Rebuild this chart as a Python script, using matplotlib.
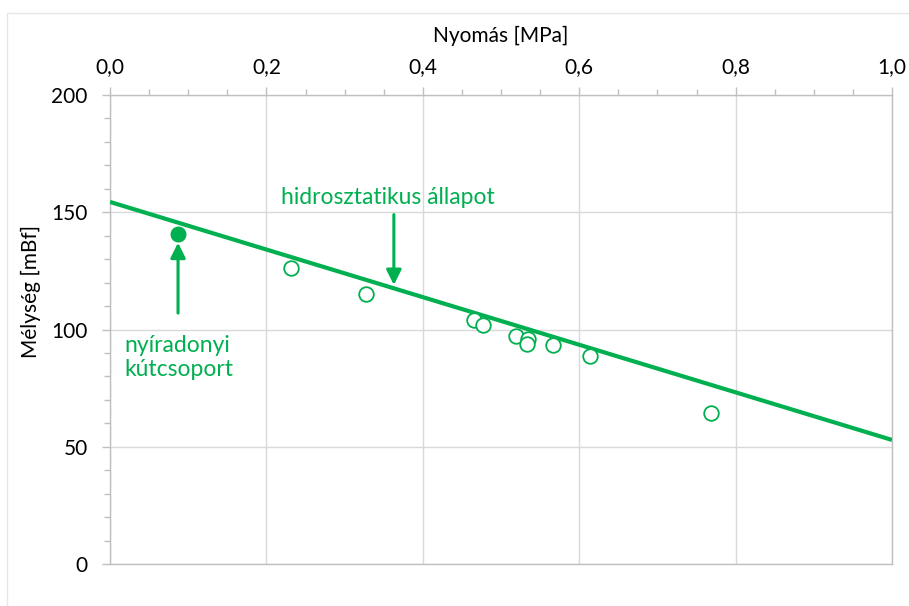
import matplotlib
matplotlib.use("Agg")
import matplotlib.pyplot as plt
from matplotlib.patches import Rectangle
from matplotlib.ticker import MultipleLocator, FuncFormatter

# measured wells: pressure [MPa] and depth [mBf]
pressure = [0.2315, 0.328, 0.4655, 0.477, 0.519, 0.5345, 0.533, 0.5665, 0.614, 0.7685]
depth = [126.3, 115.0, 104.1, 101.9, 97.2, 95.9, 93.8, 93.4, 88.7, 64.3]

# nyíradonyi well group
nyir_pressure = [0.087]
nyir_depth = [140.7]

# hydrostatic line end points
hydro_p = [0.0, 1.0]
hydro_d = [154.4, 52.9]

green = "#00B050"
grid_c = "#d9d9d9"
font = "Lato"

plt.rcParams['font.family'] = [font, 'DejaVu Sans']

W, H = 909, 606
fig = plt.figure(figsize=(W / 100, H / 100), dpi=100)
fig.patches.append(Rectangle((7 / W, -0.01), 1.0, 1 - 13 / H + 0.01,
                             transform=fig.transFigure, fill=False,
                             edgecolor="#e6e6e6", lw=1.0))

ax = fig.add_axes([110 / W, 1 - 564 / H, (892 - 110) / W, (564 - 95) / H])

ax.plot(hydro_p, hydro_d, color=green, lw=3.0, zorder=3, solid_capstyle="butt")
ax.plot(pressure, depth, ls="none", marker="o", ms=10.5, mfc="white",
        mec=green, mew=1.3, zorder=4)
ax.plot(nyir_pressure, nyir_depth, ls="none", marker="o", ms=10.5,
        mfc=green, mec=green, zorder=4)

ax.set_xlim(0, 1)
ax.set_ylim(0, 200)

ax.xaxis.tick_top()
ax.xaxis.set_label_position("top")
ax.xaxis.set_major_locator(MultipleLocator(0.2))
ax.xaxis.set_minor_locator(MultipleLocator(0.05))
ax.yaxis.set_major_locator(MultipleLocator(50))
ax.yaxis.set_minor_locator(MultipleLocator(10))
ax.xaxis.set_major_formatter(FuncFormatter(lambda v, p: f"{v:.1f}".replace(".", ",")))

ax.tick_params(which="major", length=6, width=1, color="#bfbfbf",
               labelsize=15, pad=10)
ax.tick_params(which="minor", length=4, width=1, color="#bfbfbf")
ax.tick_params(axis="x", which="major", pad=7)

ax.grid(True, which="major", color=grid_c, lw=1)
for s in ax.spines.values():
    s.set_color("#bfbfbf")
    s.set_linewidth(1)

ax.set_xlabel("Nyomás [MPa]", fontsize=15, labelpad=11)
ax.set_ylabel("Mélység [mBf]", fontsize=15)
ax.yaxis.set_label_coords(-0.088, 0.58)

# annotations
arrow = dict(arrowstyle="-|>,head_length=0.9,head_width=0.45",
             color=green, lw=2.2, shrinkA=0, shrinkB=0)
ax.annotate("", xy=(0.363, 119), xytext=(0.363, 149), arrowprops=arrow)
ax.text(0.3555, 156.5, "hidrosztatikus állapot", color=green, fontsize=16.5,
        ha="center", va="center")

ax.annotate("", xy=(0.087, 137), xytext=(0.087, 107), arrowprops=arrow)
ax.text(0.018, 88, "nyíradonyi\nkútcsoport", color=green, fontsize=16.5,
        ha="left", va="center", linespacing=1.2)

fig.savefig("out.png", dpi=100)
